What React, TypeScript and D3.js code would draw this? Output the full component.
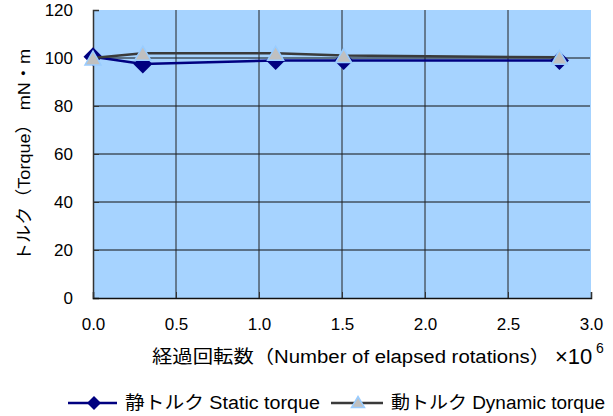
import React, { useEffect, useRef } from 'react';
import * as d3 from 'd3';

const rotations = [0, 0.3, 1.1, 1.51, 2.81];
const staticTorque = [100.5, 97.5, 99, 99, 99];
const dynamicTorque = [100, 102, 102, 101, 100.3];
const xTicks = [0, 0.5, 1.0, 1.5, 2.0, 2.5, 3.0];
const yTicks = [0, 20, 40, 60, 80, 100, 120];
const seriesNames = ['静トルク Static torque', '動トルク Dynamic torque'];

const FONT = '"Liberation Sans", Arial, "Noto Sans CJK JP", sans-serif';

const App: React.FC = () => {
  const ref = useRef<SVGSVGElement | null>(null);

  useEffect(() => {
    const svg = d3.select(ref.current);
    svg.selectAll('*').remove();

    const left = 93, right = 591, top = 10, bottom = 298;

    const x = d3.scaleLinear().domain([0, 3]).range([left, right]);
    const y = d3.scaleLinear().domain([0, 120]).range([bottom, top]);

    svg.append('rect')
      .attr('x', left).attr('y', top)
      .attr('width', right - left).attr('height', bottom - top)
      .attr('fill', '#a6d3ff');

    // grid
    svg.append('g')
      .selectAll('line')
      .data(yTicks.filter((d) => d > 0 && d < 120))
      .enter().append('line')
      .attr('x1', left).attr('x2', right - 1)
      .attr('y1', (d) => y(d)).attr('y2', (d) => y(d))
      .attr('stroke', '#111').attr('stroke-width', 1);

    svg.append('g')
      .selectAll('line')
      .data(xTicks.filter((d) => d > 0 && d < 3))
      .enter().append('line')
      .attr('x1', (d) => x(d)).attr('x2', (d) => x(d))
      .attr('y1', top).attr('y2', bottom)
      .attr('stroke', '#222').attr('stroke-width', 1);

    // axes
    const yAxis = d3.axisLeft(y).tickValues(yTicks).tickSize(-6).tickPadding(20);
    const gy = svg.append('g').attr('transform', `translate(${left},0)`).call(yAxis);
    gy.select('.domain').attr('stroke', '#333').attr('stroke-width', 1.5);
    gy.selectAll('.tick line').attr('stroke', '#333');
    gy.selectAll('text').attr('font-size', 17).attr('font-family', FONT).attr('fill', '#000');

    const xAxis = d3.axisBottom(x).tickValues(xTicks).tickFormat(d3.format('.1f')).tickSize(-6).tickPadding(20);
    const gx = svg.append('g').attr('transform', `translate(0,${bottom})`).call(xAxis);
    gx.select('.domain').attr('stroke', '#111').attr('stroke-width', 1.5);
    gx.selectAll('.tick line').attr('stroke', '#333');
    gx.selectAll('text').attr('font-size', 17).attr('font-family', FONT).attr('fill', '#000');

    const line = d3.line<number>()
      .x((_, i) => x(rotations[i]))
      .y((d) => y(d));

    const diamond = (cx: number, cy: number, r: number) =>
      `M${cx},${cy - r}L${cx + r},${cy}L${cx},${cy + r}L${cx - r},${cy}Z`;
    const triangle = (cx: number, cy: number, w: number, h: number) =>
      `M${cx},${cy - h / 2}L${cx + w / 2},${cy + h / 2}L${cx - w / 2},${cy + h / 2}Z`;

    // static series
    svg.append('path').datum(staticTorque)
      .attr('d', line).attr('fill', 'none')
      .attr('stroke', '#000080').attr('stroke-width', 2.5);
    svg.append('g').selectAll('path').data(staticTorque).enter().append('path')
      .attr('d', (d, i) => diamond(x(rotations[i]), y(d), 9.5))
      .attr('fill', '#000080');

    // dynamic series
    svg.append('path').datum(dynamicTorque)
      .attr('d', line).attr('fill', 'none')
      .attr('stroke', '#3a3a3a').attr('stroke-width', 2.5);
    svg.append('g').selectAll('path').data(dynamicTorque).enter().append('path')
      .attr('d', (d, i) => triangle(x(rotations[i]), y(d), 16, 14))
      .attr('fill', '#c0c0c0').attr('stroke', '#99ccff').attr('stroke-width', 1.5);

    // axis titles
    svg.append('text')
      .attr('x', 152).attr('y', 363)
      .attr('font-size', 18).attr('font-family', FONT).attr('fill', '#000')
      .attr('textLength', 398).attr('lengthAdjust', 'spacingAndGlyphs')
      .text('経過回転数（Number of elapsed rotations）');
    svg.append('text')
      .attr('x', 555).attr('y', 364)
      .attr('font-size', 22).attr('font-family', FONT).attr('fill', '#000')
      .text('×10');
    svg.append('text')
      .attr('x', 596).attr('y', 353)
      .attr('font-size', 14).attr('font-family', FONT).attr('fill', '#000')
      .text('6');

    svg.append('text')
      .attr('transform', 'translate(30,155) rotate(-90)')
      .attr('text-anchor', 'middle')
      .attr('font-size', 17).attr('font-family', FONT).attr('fill', '#000')
      .attr('textLength', 212).attr('lengthAdjust', 'spacingAndGlyphs')
      .text('トルク（Torque）  mN・m');

    // legend
    const ly = 403;
    svg.append('line').attr('x1', 68).attr('x2', 117).attr('y1', ly).attr('y2', ly)
      .attr('stroke', '#000080').attr('stroke-width', 2.5);
    svg.append('path').attr('d', diamond(94, ly, 7)).attr('fill', '#000080');
    svg.append('text').attr('x', 125).attr('y', ly + 6)
      .attr('font-size', 18).attr('font-family', FONT)
      .attr('textLength', 195).attr('lengthAdjust', 'spacingAndGlyphs')
      .text(seriesNames[0]);

    svg.append('line').attr('x1', 331).attr('x2', 383).attr('y1', ly).attr('y2', ly)
      .attr('stroke', '#3a3a3a').attr('stroke-width', 2.5);
    svg.append('path').attr('d', triangle(358, ly - 1, 13, 11))
      .attr('fill', '#c0c0c0').attr('stroke', '#99ccff').attr('stroke-width', 1.5);
    svg.append('text').attr('x', 391).attr('y', ly + 6)
      .attr('font-size', 18).attr('font-family', FONT)
      .attr('textLength', 214).attr('lengthAdjust', 'spacingAndGlyphs')
      .text(seriesNames[1]);
  }, []);

  return (
    <svg
      ref={ref}
      width={613}
      height={416}
      style={{ position: 'absolute', left: 0, top: 0, background: '#fff' }}
    />
  );
};

export default App;
